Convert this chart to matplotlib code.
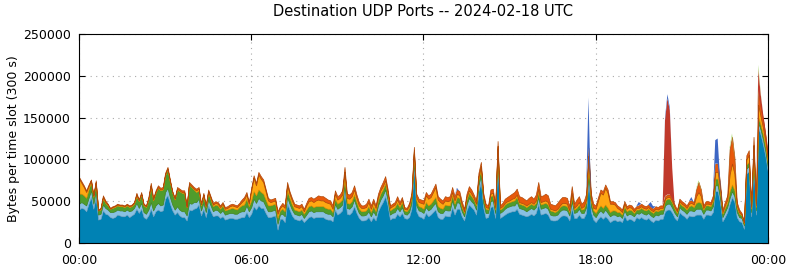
import numpy as np
import matplotlib
matplotlib.use('Agg')
import matplotlib.pyplot as plt

# values in kB per 5-minute slot, 00:00 .. 24:00
base = [40, 42, 41, 38, 47, 55, 41, 55, 28, 29, 39, 35, 34, 31, 30, 31, 34, 33, 32, 32, 34, 31, 33, 35,
        41, 36, 41, 31, 29, 33, 41, 32, 38, 40, 38, 39, 53, 57, 47, 39, 34, 37, 33, 31, 31, 27, 40, 39,
        41, 42, 46, 33, 41, 31, 45, 38, 32, 33, 33, 30, 32, 28, 29, 30, 30, 29, 29, 30, 31, 31, 37, 31,
        35, 44, 40, 45, 42, 42, 36, 31, 31, 32, 33, 16, 29, 29, 25, 47, 40, 33, 29, 28, 27, 29, 25, 28,
        31, 32, 30, 31, 31, 31, 31, 29, 28, 28, 26, 40, 34, 36, 39, 62, 35, 34, 37, 44, 36, 30, 27, 27,
        28, 31, 26, 31, 27, 38, 44, 49, 56, 45, 28, 30, 30, 35, 32, 36, 30, 29, 31, 41, 94, 38, 32, 31,
        29, 36, 32, 34, 37, 40, 31, 29, 29, 33, 32, 32, 43, 34, 41, 41, 32, 27, 39, 46, 43, 40, 34, 62,
        73, 42, 30, 31, 43, 44, 30, 98, 30, 32, 34, 36, 37, 38, 38, 41, 35, 34, 33, 32, 33, 35, 33, 36,
        47, 34, 35, 36, 34, 28, 27, 27, 28, 31, 33, 33, 32, 27, 42, 30, 30, 34, 30, 30, 36, 76, 37, 28,
        25, 29, 32, 29, 32, 29, 25, 27, 28, 26, 27, 25, 33, 27, 29, 28, 26, 31, 29, 31, 29, 28, 30, 27,
        25, 28, 27, 29, 29, 38, 40, 40, 36, 30, 27, 37, 34, 32, 29, 33, 32, 32, 34, 34, 34, 29, 34, 34,
        33, 37, 62, 62, 48, 26, 31, 37, 47, 55, 49, 31, 26, 25, 17, 83, 86, 32, 97, 34, 138, 129, 117, 103, 85]

light_blue = [7, 7, 6, 7, 7, 8, 6, 7, 6, 6, 7, 7, 6, 6, 7, 7, 6, 6, 7, 6, 6, 7, 6, 7,
              7, 6, 7, 6, 6, 7, 8, 7, 7, 8, 7, 7, 8, 9, 8, 7, 6, 7, 7, 7, 7, 6, 8, 8,
              8, 7, 7, 6, 7, 6, 7, 7, 6, 7, 6, 6, 7, 6, 6, 6, 6, 6, 6, 7, 7, 7, 8, 7,
              8, 9, 8, 9, 9, 8, 8, 7, 7, 7, 7, 7, 5, 6, 7, 8, 7, 7, 6, 6, 6, 6, 5, 6,
              7, 7, 7, 7, 7, 7, 7, 7, 7, 7, 6, 7, 7, 7, 7, 8, 7, 7, 7, 8, 7, 6, 6, 6,
              6, 7, 6, 7, 6, 7, 8, 8, 8, 7, 6, 6, 7, 7, 6, 7, 5, 5, 6, 7, 6, 7, 7, 7,
              7, 7, 7, 7, 8, 8, 7, 7, 7, 7, 7, 7, 8, 7, 8, 7, 6, 5, 7, 8, 7, 7, 6, 7,
              8, 6, 6, 5, 7, 7, 6, 7, 6, 6, 7, 7, 7, 7, 7, 8, 7, 7, 7, 6, 7, 7, 7, 7,
              8, 7, 7, 7, 7, 6, 6, 6, 6, 7, 7, 7, 7, 6, 8, 6, 7, 7, 6, 6, 7, 8, 7, 6,
              6, 7, 7, 7, 8, 7, 7, 7, 6, 6, 6, 5, 6, 6, 6, 6, 6, 5, 6, 6, 6, 6, 6, 6,
              6, 6, 6, 6, 6, 7, 7, 7, 6, 6, 5, 6, 6, 6, 6, 6, 7, 6, 7, 7, 7, 6, 6, 6,
              6, 7, 7, 7, 6, 5, 6, 6, 7, 7, 7, 6, 5, 5, 4, 6, 6, 5, 6, 5, 6, 6, 6, 6, 5]

green = [12, 10, 10, 9, 10, 10, 8, 10, 5, 5, 7, 6, 5, 4, 5, 5, 5, 5, 5, 5, 5, 5, 5, 5,
         8, 8, 10, 8, 8, 12, 18, 12, 15, 18, 18, 18, 20, 22, 18, 14, 12, 20, 22, 22, 22, 10, 22, 20,
         15, 12, 10, 6, 8, 6, 8, 7, 6, 6, 6, 5, 6, 5, 5, 5, 6, 6, 5, 6, 7, 8, 8, 6,
         8, 9, 9, 10, 10, 9, 8, 7, 7, 7, 7, 7, 5, 6, 6, 8, 7, 6, 5, 5, 5, 5, 5, 6,
         6, 6, 6, 6, 6, 6, 6, 6, 6, 6, 5, 6, 6, 6, 6, 7, 6, 6, 6, 6, 6, 5, 5, 5,
         5, 6, 5, 6, 5, 6, 7, 7, 7, 6, 5, 5, 6, 6, 5, 6, 4, 4, 5, 6, 8, 6, 5, 5,
         5, 6, 6, 6, 6, 7, 6, 6, 5, 6, 6, 6, 6, 6, 6, 6, 5, 4, 6, 6, 6, 5, 5, 7,
         8, 6, 5, 4, 6, 6, 4, 8, 4, 4, 5, 5, 5, 5, 6, 6, 5, 5, 5, 5, 5, 5, 5, 5,
         6, 5, 5, 5, 5, 5, 5, 4, 5, 5, 5, 5, 5, 4, 6, 4, 5, 5, 4, 5, 6, 10, 6, 5,
         5, 5, 6, 6, 6, 6, 5, 5, 5, 5, 4, 4, 5, 5, 5, 5, 4, 4, 5, 5, 5, 5, 5, 5,
         5, 5, 5, 5, 5, 6, 6, 6, 6, 5, 4, 5, 5, 5, 5, 5, 6, 5, 7, 8, 7, 5, 5, 5,
         5, 6, 8, 8, 6, 4, 5, 5, 8, 8, 7, 5, 4, 3, 2, 5, 5, 4, 6, 4, 6, 6, 6, 6, 5]

orange = [18, 13, 10, 7, 4, 2, 1, 1, 0, 1, 2, 1, 1, 0, 1, 1, 1, 1, 1, 1, 1, 1, 1, 1,
          2, 1, 1, 1, 1, 1, 2, 1, 1, 1, 1, 1, 1, 1, 1, 1, 1, 1, 1, 1, 1, 0, 1, 1,
          1, 2, 2, 1, 2, 1, 2, 2, 2, 2, 2, 2, 2, 2, 2, 3, 3, 3, 3, 3, 4, 6, 5, 3,
          12, 16, 12, 18, 16, 14, 10, 6, 4, 4, 4, 5, 3, 4, 4, 6, 5, 5, 4, 4, 4, 4, 3, 5,
          6, 6, 6, 7, 8, 7, 7, 7, 7, 6, 4, 6, 5, 5, 6, 8, 6, 6, 6, 6, 5, 4, 4, 4,
          4, 5, 4, 5, 4, 4, 4, 4, 4, 3, 3, 3, 3, 4, 3, 3, 2, 2, 3, 3, 3, 4, 5, 5,
          6, 8, 8, 8, 10, 12, 8, 7, 6, 5, 5, 6, 4, 4, 4, 3, 3, 2, 3, 3, 3, 2, 2, 3,
          3, 2, 2, 2, 3, 3, 2, 3, 2, 2, 2, 2, 2, 3, 3, 3, 2, 2, 2, 2, 2, 2, 2, 3,
          4, 3, 3, 3, 3, 2, 2, 2, 2, 2, 3, 3, 3, 2, 4, 2, 3, 3, 2, 3, 3, 10, 3, 3,
          5, 10, 15, 16, 20, 18, 10, 8, 7, 5, 3, 3, 3, 3, 3, 3, 2, 2, 2, 2, 2, 2, 2, 2,
          2, 2, 2, 2, 2, 2, 2, 2, 2, 2, 2, 2, 2, 2, 2, 3, 3, 3, 8, 12, 8, 2, 2, 2,
          2, 3, 8, 8, 6, 2, 3, 4, 20, 25, 20, 3, 2, 1, 1, 6, 8, 2, 8, 2, 15, 10, 8, 6, 5]

dark_orange = [2, 2, 2, 2, 2, 1, 1, 2, 1, 1, 2, 2, 1, 1, 1, 1, 1, 1, 1, 1, 1, 1, 1, 1,
               2, 1, 2, 1, 1, 2, 3, 2, 2, 2, 2, 2, 2, 2, 2, 1, 1, 2, 2, 2, 2, 1, 2, 2,
               2, 2, 2, 1, 2, 1, 2, 2, 2, 2, 2, 2, 2, 2, 2, 2, 2, 2, 2, 2, 3, 3, 3, 2,
               3, 3, 3, 3, 3, 3, 3, 3, 3, 3, 3, 3, 2, 3, 3, 4, 3, 3, 3, 3, 3, 3, 3, 3,
               4, 4, 4, 4, 5, 5, 5, 5, 4, 4, 4, 4, 4, 4, 5, 6, 5, 5, 5, 5, 4, 4, 3, 3,
               4, 4, 4, 4, 3, 4, 4, 5, 5, 4, 3, 3, 3, 4, 3, 3, 2, 2, 3, 3, 4, 4, 4, 4,
               4, 4, 4, 4, 4, 4, 4, 4, 4, 5, 5, 5, 6, 5, 5, 5, 4, 3, 4, 5, 5, 4, 4, 5,
               5, 4, 4, 3, 5, 5, 3, 6, 3, 4, 5, 5, 6, 6, 7, 7, 7, 7, 6, 6, 7, 7, 6, 7,
               8, 7, 7, 8, 8, 6, 6, 6, 7, 7, 7, 7, 7, 5, 8, 5, 7, 7, 5, 6, 7, 10, 6, 5,
               4, 4, 4, 4, 4, 4, 3, 3, 3, 3, 3, 3, 3, 3, 3, 3, 3, 2, 3, 3, 3, 3, 3, 3,
               3, 3, 3, 3, 3, 3, 3, 3, 3, 3, 2, 3, 3, 3, 3, 3, 3, 3, 8, 12, 8, 3, 3, 3,
               3, 4, 10, 10, 6, 3, 4, 5, 30, 32, 20, 4, 3, 2, 1, 5, 6, 2, 10, 3, 18, 12, 10, 8, 6]

red = [0] * 245 + [91, 115, 101, 37] + [0] * 35 + [25, 15, 8, 6, 4]

blue = [0] * 289
blue_spikes = {158: 2, 213: 60, 234: 4, 239: 6, 240: 3, 245: 3, 246: 5, 247: 3,
               256: 4, 266: 28, 267: 30, 268: 5}
for k, v in blue_spikes.items():
    blue[k] = v

lime = [0] * 289
lime_spikes = {258: 1, 259: 2, 260: 1, 272: 2, 273: 4, 274: 2, 284: 5, 285: 2}
for k, v in lime_spikes.items():
    lime[k] = v

tick_pos = [0, 6, 12, 18, 24]
tick_labels = ['00:00', '06:00', '12:00', '18:00', '00:00']

layers = [base, light_blue, green, orange, dark_orange, red, blue, lime]
colors = ['#0082b4', '#88c0e2', '#4f9c2c', '#ffa812', '#e8590c', '#c0392b', '#3d66c4', '#a6d86c']
# outline colour of each band; the sparse spike bands get no outline
edges = ['#006a94', '#6fa5c6', '#3f8522', '#d98e00', '#b04a0a', 'none', 'none', 'none']

hours = np.arange(len(base)) * 5 / 60
data = np.array(layers, dtype=float) * 1000

fig = plt.figure(figsize=(7.9, 2.67), dpi=100)
ax = fig.add_axes([0.1, 0.0899, 0.872, 0.7828])

polys = ax.stackplot(hours, data, colors=colors, zorder=2)
for p, ec in zip(polys, edges):
    p.set_edgecolor(ec)
    p.set_linewidth(0.5)

ax.set_xlim(0, 24)
ax.set_ylim(0, 250000)
ax.set_xticks(tick_pos)
ax.set_xticklabels(tick_labels)
ax.set_yticks(np.arange(0, 250001, 50000))
ax.tick_params(direction='in', top=True, right=True, length=4, labelsize=9)
ax.tick_params(axis='x', pad=8)
ax.tick_params(axis='y', pad=6)
ax.grid(True, linestyle=(0, (1, 4)), color='#aaaaaa', linewidth=0.8, zorder=0)
ax.set_axisbelow(True)
ax.set_ylabel('Bytes per time slot (300 s)', fontsize=9, labelpad=2)
ax.set_title('Destination UDP Ports -- 2024-02-18 UTC', fontsize=10.5, pad=13)

fig.savefig('out.png', dpi=100)
